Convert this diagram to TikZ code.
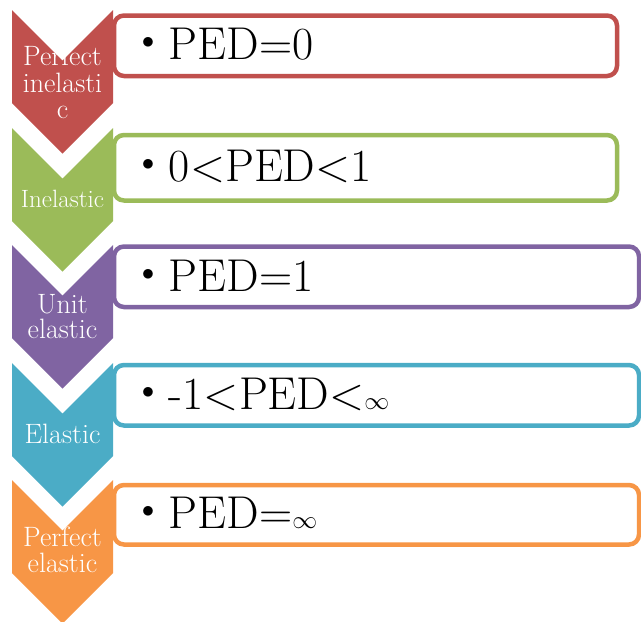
\documentclass[tikz,border=0pt]{standalone}
\definecolor{pedred}{RGB}{192, 80, 77}
\definecolor{pedgreen}{RGB}{155, 187, 89}
\definecolor{pedpurple}{RGB}{128, 100, 162}
\definecolor{pedaqua}{RGB}{75, 172, 198}
\definecolor{pedorange}{RGB}{247, 150, 70}
\usepackage{tikz}
\newcommand{\itembullet}{\makebox[27pt][l]{\raisebox{11pt}{\fontsize{25}{25}\selectfont$\bullet$}}}
\tikzset{
  itembox/.style={draw=#1, line width=4.5pt, rounded corners=10pt, fill=white, inner sep=0pt},
  itemtext/.style={anchor=base west, inner sep=0pt, font=\fontsize{46}{46}\selectfont},
  chevlabel/.style={text=white, align=center, inner sep=0pt, font=\fontsize{28}{25.5}\selectfont}
}

\begin{document}
\begin{tikzpicture}[x=1pt, y=-1pt]
  \useasboundingbox (0,0) rectangle (641,622);

  % Boxes
  \node[itembox=pedred, minimum width=503pt, minimum height=60.5pt] (box1) at (365.5, 45.75) {};
  \node[itembox=pedgreen, minimum width=503pt, minimum height=65.5pt] (box2) at (365.5, 167.75) {};
  \node[itembox=pedpurple, minimum width=525pt, minimum height=60.5pt] (box3) at (376.5, 276.75) {};
  \node[itembox=pedaqua, minimum width=525pt, minimum height=60.5pt] (box4) at (376.5, 395.25) {};
  \node[itembox=pedorange, minimum width=525pt, minimum height=59.5pt] (box5) at (376.5, 514.75) {};

  % Chevrons
  \fill[pedred] (12,10) -- ++(50.5,50.5) -- ++(50.5,-50.5) -- ++(0,93) -- ++(-50.5,50.5) -- ++(-50.5,-50.5) -- cycle;
  \fill[pedgreen] (12,128) -- ++(50.5,50.5) -- ++(50.5,-50.5) -- ++(0,93) -- ++(-50.5,50.5) -- ++(-50.5,-50.5) -- cycle;
  \fill[pedpurple] (12,245) -- ++(50.5,50.5) -- ++(50.5,-50.5) -- ++(0,93) -- ++(-50.5,50.5) -- ++(-50.5,-50.5) -- cycle;
  \fill[pedaqua] (12,363) -- ++(50.5,50.5) -- ++(50.5,-50.5) -- ++(0,93) -- ++(-50.5,50.5) -- ++(-50.5,-50.5) -- cycle;
  \fill[pedorange] (12,480) -- ++(50.5,50.5) -- ++(50.5,-50.5) -- ++(0,93) -- ++(-50.5,50.5) -- ++(-50.5,-50.5) -- cycle;

  % Chevron labels
  \node[chevlabel, font=\fontsize{28}{26.5}\selectfont] (lab1) at (62.5, 82.5) {Perfect\\inelasti\\c};
  \node[chevlabel, anchor=base, font=\fontsize{25}{25}\selectfont] (lab2) at (62.5, 207) {Inelastic};
  \node[chevlabel] (lab3) at (62.5, 316.5) {Unit\\elastic};
  \node[chevlabel, anchor=base] (lab4) at (62.5, 443) {Elastic};
  \node[chevlabel] (lab5) at (62.5, 550) {Perfect\\elastic};

  % Items
  \node[itemtext] (ped1) at (141.75, 59.5) {\itembullet PED=0};
  \node[itemtext] (ped2) at (141.75, 181) {\itembullet 0<PED<1};
  \node[itemtext] (ped3) at (141.75, 291) {\itembullet PED=1};
  \node[itemtext] (ped4) at (141.75, 409) {\itembullet -1<PED<$\infty$};
  \node[itemtext] (ped5) at (141.75, 528) {\itembullet PED=$\infty$};
\end{tikzpicture}
\end{document}
